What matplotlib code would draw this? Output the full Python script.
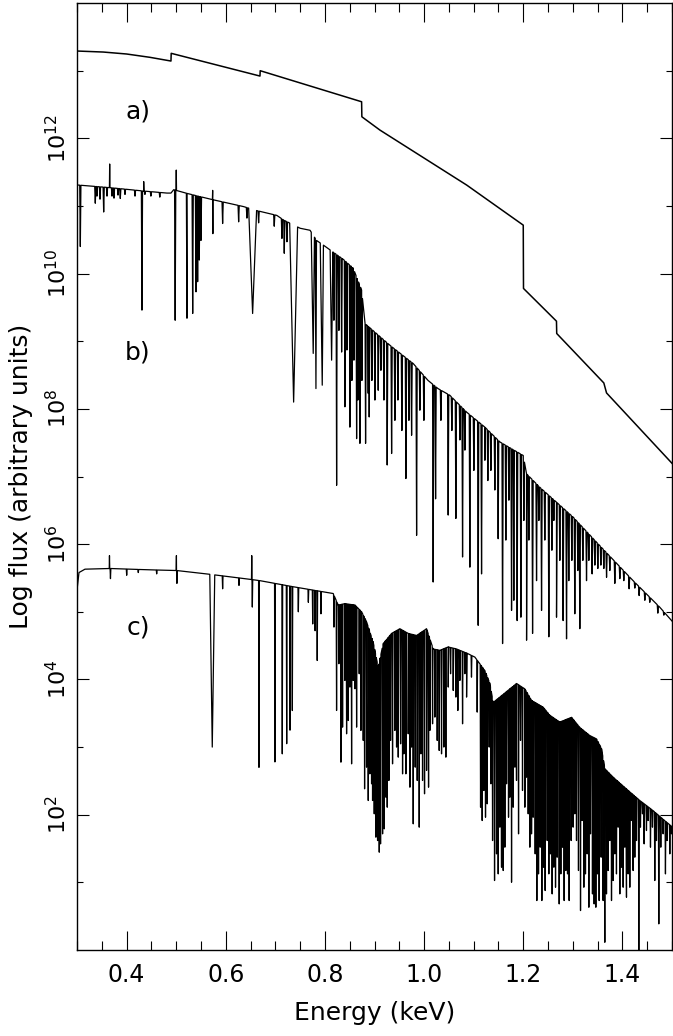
import numpy as np
import matplotlib
matplotlib.use("Agg")
import matplotlib.pyplot as plt
from matplotlib.ticker import FixedLocator, FuncFormatter, MultipleLocator, NullFormatter

plt.rcParams.update(
    {
        "font.family": "DejaVu Sans",
        "font.size": 18,
        "mathtext.fontset": "dejavusans",
        "axes.linewidth": 1.0,
    }
)

# %% data (energy in keV, log10 of flux in arbitrary units)

# a) pure continuum with photo-ionisation edges
a_energy = [0.300, 0.353, 0.400, 0.447, 0.4895, 0.4900, 0.669, 0.6695, 0.874, 0.8745,
            0.911, 1.086, 1.200, 1.2005, 1.267, 1.2675, 1.3625, 1.368, 1.500]
a_logflux = [13.29, 13.275, 13.246, 13.197, 13.142, 13.256, 12.920, 12.999, 12.540, 12.318,
             12.121, 11.308, 10.716, 9.780, 9.296, 9.114, 8.383, 8.235, 7.195]

# b) continuum (upper envelope)
b_cont_energy = [0.300, 0.367, 0.4345, 0.4815, 0.4895, 0.495, 0.522, 0.569, 0.636, 0.663,
                 0.703, 0.717, 0.750, 0.770, 0.783, 0.797, 0.816, 0.837, 0.857, 0.874,
                 0.881, 0.931, 0.978, 1.008, 1.028, 1.052, 1.086, 1.1225, 1.153, 1.200,
                 1.2066, 1.2334, 1.267, 1.3005, 1.354, 1.4215, 1.475, 1.5016]
b_cont_logflux = [11.31, 11.27, 11.22, 11.19, 11.19, 11.24, 11.185, 11.10, 10.99, 10.93,
                  10.86, 10.79, 10.67, 10.64, 10.49, 10.42, 10.32, 10.21, 10.08, 9.755,
                  9.26, 8.94, 8.67, 8.42, 8.30, 8.20, 7.95, 7.73, 7.51, 7.31,
                  7.04, 6.84, 6.62, 6.40, 5.98, 5.46, 5.07, 4.85]

# b) narrow absorption lines: centre and line-bottom
b_line_energy = [0.3067, 0.3369, 0.3403, 0.3464, 0.3538, 0.3605, 0.3706, 0.3746, 0.3827, 0.3873,
                 0.3968, 0.417, 0.431, 0.437, 0.449, 0.467, 0.498, 0.5218, 0.5333, 0.540,
                 0.5433, 0.5466, 0.550, 0.574, 0.5937, 0.626, 0.6427, 0.6663, 0.6978, 0.7133,
                 0.718, 0.7234,
                 0.8181, 0.8236, 0.8282, 0.8337, 0.8403, 0.8444, 0.8504, 0.8544, 0.8585, 0.8639,
                 0.8665, 0.8706, 0.8746, 0.882, 0.8873, 0.8893, 0.8947, 0.9008, 0.9075, 0.9129,
                 0.919, 0.9256, 0.9345, 0.9411, 0.9472, 0.9552, 0.9633, 0.9694, 0.9748, 0.9849,
                 0.9915, 0.9996, 1.0183, 1.0232, 1.0339, 1.0486, 1.056, 1.0641, 1.0722, 1.0776,
                 1.0823, 1.0923, 1.1004, 1.1091, 1.1159, 1.1226, 1.1286, 1.1347, 1.1427, 1.1494,
                 1.1583, 1.1649, 1.171, 1.1764, 1.181, 1.1877, 1.1952, 1.2012, 1.2067, 1.2113,
                 1.2188, 1.2268, 1.2315, 1.2369, 1.2435, 1.2516, 1.2577, 1.2617, 1.2671, 1.2738,
                 1.2804, 1.2873, 1.2919, 1.298, 1.304, 1.3101, 1.3141, 1.3202, 1.3276, 1.3323,
                 1.3389, 1.3444, 1.3504, 1.3565, 1.3625, 1.368, 1.3746, 1.3847, 1.3948, 1.4028,
                 1.4135, 1.425, 1.4337, 1.4452, 1.4552, 1.4714, 1.4835]
b_line_logflux = [10.40, 11.04, 11.145, 11.10, 10.91, 11.145, 11.145, 11.115, 11.16, 11.11,
                  11.17, 11.145, 9.46, 11.17, 11.145, 11.13, 9.31, 9.34, 9.41, 9.73,
                  9.88, 10.20, 10.49, 10.59, 10.74, 10.765, 10.82, 10.75, 10.70, 10.52,
                  10.30, 10.47,
                  9.31, 6.87, 9.16, 8.84, 8.03, 8.87, 7.73, 8.42, 8.72, 7.56,
                  8.13, 7.49, 8.42, 7.49, 8.23, 7.88, 8.42, 8.13, 8.275, 8.57,
                  8.13, 7.17, 7.34, 7.83, 8.13, 7.68, 6.97, 7.83, 7.61, 6.13,
                  7.98, 7.83, 5.44, 6.67, 7.83, 6.43, 7.68, 6.38, 7.54, 5.81,
                  7.39, 5.66, 7.09, 4.80, 5.56, 7.24, 6.94, 7.09, 6.80, 6.08,
                  4.53, 6.06, 6.65, 5.02, 5.17, 4.87, 4.92, 6.35, 4.58, 6.06,
                  4.68, 5.46, 6.35, 5.02, 6.06, 4.63, 5.91, 6.35, 4.92, 5.76,
                  4.87, 4.60, 5.46, 5.76, 4.97, 5.61, 4.75, 5.76, 5.46, 5.76,
                  5.56, 5.69, 5.64, 5.69, 5.64, 5.51, 5.61, 5.42, 5.49, 5.46,
                  5.34, 5.35, 5.24, 5.17, 5.14, 4.98, 4.95]

# b) broad absorption troughs
b_broad_energy = [0.6542, 0.7369, 0.7764, 0.7819, 0.7946, 0.8135]
b_broad_logflux = [9.41, 8.10, 8.82, 8.30, 8.35, 8.72]
b_broad_halfwidth = [0.008, 0.008, 0.004, 0.003, 0.004, 0.003]

# b) emission spikes
b_emis_energy = [0.3659, 0.4345, 0.5002, 0.5736]
b_emis_logflux = [11.62, 11.36, 11.53, 11.23]

# c) continuum (upper envelope)
c_cont_energy = [0.300, 0.304, 0.3161, 0.3665, 0.4472, 0.501, 0.5615, 0.6488, 0.669, 0.7361,
                 0.8167, 0.8268, 0.8403, 0.8605, 0.874, 0.8841, 0.8974, 0.9075, 0.9175, 0.9345,
                 0.9512, 0.968, 0.9849, 1.005, 1.0184, 1.0319, 1.0486, 1.0655, 1.0857, 1.1024,
                 1.1125, 1.1226, 1.1327, 1.1394, 1.1563, 1.173, 1.1865, 1.2032, 1.2167, 1.2401,
                 1.2536, 1.2738, 1.2974, 1.3141, 1.3343, 1.3478, 1.3579, 1.3646, 1.3813, 1.4083,
                 1.4351, 1.4619, 1.4889, 1.5016]
c_cont_logflux = [5.32, 5.58, 5.63, 5.64, 5.62, 5.61, 5.56, 5.48, 5.46, 5.37,
                  5.27, 5.10, 5.12, 5.10, 5.00, 4.85, 4.55, 4.18, 4.53, 4.68,
                  4.75, 4.68, 4.65, 4.75, 4.45, 4.43, 4.48, 4.45, 4.39, 4.33,
                  4.23, 4.13, 3.94, 3.66, 3.76, 3.86, 3.94, 3.86, 3.69, 3.59,
                  3.47, 3.37, 3.44, 3.29, 3.17, 3.12, 2.975, 2.68, 2.555, 2.38,
                  2.21, 2.06, 1.89, 1.815]

# c) narrow absorption lines
c_line_energy = [0.3675, 0.4002, 0.4236, 0.4607, 0.5015, 0.5937, 0.6267, 0.6536, 0.667, 0.6992,
                 0.714, 0.7229, 0.7296, 0.7343, 0.7464, 0.7666, 0.7754, 0.7802, 0.7845, 0.792,
                 0.8182, 0.8235, 0.8282, 0.8323, 0.8356, 0.8403, 0.8437, 0.8471, 0.8504, 0.8538,
                 0.8571, 0.8605, 0.8639, 0.8692, 0.8726, 0.8773, 0.8800, 0.8840, 0.8874, 0.8907,
                 0.8941, 0.8961, 0.8995, 0.9028, 0.9062, 0.9096, 0.9122, 0.9163, 0.9196, 0.9230,
                 0.9257, 0.9290, 0.9324, 0.9364, 0.9411, 0.9445, 0.9479, 0.9526, 0.9566, 0.9593,
                 0.9633, 0.9680, 0.9714, 0.9748, 0.9781, 0.9821, 0.9862, 0.9902, 0.9936, 0.9969,
                 1.0009, 1.0050, 1.0090, 1.0117, 1.0171, 1.0218, 1.0265, 1.0305, 1.0352, 1.0399,
                 1.0439, 1.0487, 1.0534, 1.0588, 1.0641, 1.0681, 1.0722, 1.0776, 1.0823, 1.0857,
                 1.0956, 1.1071, 1.1139, 1.1172, 1.1206, 1.1239, 1.1273, 1.1313, 1.1347, 1.1381,
                 1.1421, 1.1461, 1.1495, 1.1528, 1.1562, 1.1596, 1.1629, 1.1663, 1.1703, 1.1730,
                 1.1764, 1.1797, 1.1831, 1.1864, 1.1905, 1.1945, 1.1985, 1.2032, 1.2066, 1.2100,
                 1.2133, 1.2167, 1.2200, 1.2241, 1.2274, 1.2308, 1.2342, 1.2375, 1.2409, 1.2442,
                 1.2483, 1.2516, 1.2550, 1.2583, 1.2617, 1.2651, 1.2684, 1.2725, 1.2758, 1.2792,
                 1.2825, 1.2859, 1.2893, 1.2926, 1.2966, 1.3006, 1.3040, 1.3074, 1.3114, 1.3155,
                 1.3188, 1.3222, 1.3255, 1.3289, 1.3323, 1.3356, 1.3396, 1.3430, 1.3464, 1.3497,
                 1.3531, 1.3571, 1.3611, 1.3645, 1.3679, 1.3712, 1.3746, 1.3780, 1.3813, 1.3847,
                 1.3880, 1.3914, 1.3948, 1.3981, 1.4015, 1.4048, 1.4082, 1.4115, 1.4149, 1.4183,
                 1.4216, 1.4250, 1.4284, 1.4331, 1.4364, 1.4405, 1.4438, 1.4485, 1.4519, 1.4566,
                 1.4606, 1.4653, 1.4687, 1.4734, 1.4774, 1.4821, 1.4868, 1.4902, 1.4956, 1.4990]
c_line_logflux = [5.49, 5.54, 5.58, 5.56, 5.42, 5.34, 5.39, 5.07, 2.70, 2.78,
                  2.90, 3.05, 3.25, 3.54, 5.00, 5.14, 4.82, 4.72, 4.28, 4.97,
                  4.774, 3.541, 4.232, 2.777, 3.295, 3.985, 3.196, 3.393, 3.887, 2.752,
                  3.985, 3.862, 3.295, 4.084, 3.246, 3.098, 2.383, 2.703, 2.210, 2.604,
                  2.457, 2.210, 2.013, 1.668, 1.618, 1.446, 1.569, 1.717, 1.791, 2.259,
                  2.111, 2.506, 3.098, 2.752, 3.246, 3.000, 2.851, 3.048, 2.604, 2.900,
                  2.604, 3.196, 2.407, 3.000, 1.865, 2.703, 2.506, 1.816, 2.900, 2.506,
                  2.309, 2.654, 2.407, 3.246, 3.344, 3.443, 3.098, 2.950, 2.900, 3.000,
                  2.851, 3.887, 4.084, 3.837, 3.739, 3.541, 3.985, 3.344, 4.084, 3.739,
                  4.034, 3.517, 2.111, 1.914, 2.358, 1.963, 2.161, 3.000, 2.457, 1.618,
                  1.027, 1.421, 1.125, 1.816, 1.224, 1.175, 1.520, 2.457, 1.963, 2.259,
                  1.002, 2.111, 2.703, 2.506, 1.717, 3.098, 2.358, 2.111, 2.555, 2.013,
                  1.520, 1.717, 1.963, 1.421, 0.731, 1.125, 1.520, 0.731, 1.224, 0.879,
                  1.618, 1.125, 1.421, 0.829, 1.224, 0.928, 1.372, 0.681, 1.125, 1.520,
                  0.731, 1.175, 1.125, 0.731, 1.618, 1.816, 2.013, 1.618, 1.175, 0.583,
                  1.914, 0.928, 1.125, 1.421, 0.632, 1.717, 0.829, 0.681, 0.632, 1.125,
                  0.731, 1.372, 0.731, 0.114, 0.829, 1.175, 1.618, 0.731, 1.027, 1.421,
                  1.125, 1.816, 0.829, 1.224, 0.928, 1.520, 0.780, 1.125, 0.928, 1.914,
                  1.175, 1.372, 1.618, -0.05, 1.816, 2.013, 1.569, 1.766, 1.914, 1.520,
                  1.816, 1.027, 1.618, 0.386, 1.520, 1.717, 1.125, 1.618, 1.421, 1.717]

# c) broad absorption trough
c_broad_energy = [0.5728]
c_broad_logflux = [3.00]
c_broad_halfwidth = [0.005]

# c) emission spikes
c_emis_energy = [0.3655, 0.5005, 0.6524]
c_emis_logflux = [5.83, 5.83, 5.83]

b_hw = 0.0012
c_hw = 0.0008
emis_hw = 0.0005


def build_spectrum(cont_e, cont_f, feats):
    """merge continuum knots with line features (centre, log flux, half width)"""
    ce = np.asarray(cont_e, dtype=float)
    cf = np.asarray(cont_f, dtype=float)
    e_all = [ce]
    f_all = [cf]
    for energies, fluxes, hws in feats:
        for e0, f0, w in zip(energies, fluxes, hws):
            e_all.append(np.array([e0 - w, e0, e0 + w]))
            f_all.append(np.array([np.interp(e0 - w, ce, cf), f0, np.interp(e0 + w, ce, cf)]))
    e_all = np.concatenate(e_all)
    f_all = np.concatenate(f_all)
    order = np.argsort(e_all, kind="stable")
    return e_all[order], 10.0 ** f_all[order]


b_e, b_f = build_spectrum(
    b_cont_energy,
    b_cont_logflux,
    [
        (b_line_energy, b_line_logflux, [b_hw] * len(b_line_energy)),
        (b_broad_energy, b_broad_logflux, b_broad_halfwidth),
        (b_emis_energy, b_emis_logflux, [emis_hw] * len(b_emis_energy)),
    ],
)
c_e, c_f = build_spectrum(
    c_cont_energy,
    c_cont_logflux,
    [
        (c_line_energy, c_line_logflux, [c_hw] * len(c_line_energy)),
        (c_broad_energy, c_broad_logflux, c_broad_halfwidth),
        (c_emis_energy, c_emis_logflux, [emis_hw] * len(c_emis_energy)),
    ],
)

# %% figure
fig = plt.figure(figsize=(6.73, 10.36), dpi=100)
ax = fig.add_axes([77 / 673, 86 / 1036, 595 / 673, 947 / 1036])

ax.plot(a_energy, 10.0 ** np.asarray(a_logflux), color="black", lw=1.1)
ax.plot(b_e, b_f, color="black", lw=0.9)
ax.plot(c_e, c_f, color="black", lw=0.9)

ax.set_yscale("log")
ax.set_xlim(0.3, 1.5)
ax.set_ylim(1, 1e14)

ax.xaxis.set_major_locator(MultipleLocator(0.2))
ax.xaxis.set_minor_locator(MultipleLocator(0.05))
ax.xaxis.set_major_formatter(FuncFormatter(lambda v, p: f"{v:.1f}"))
ax.yaxis.set_major_locator(FixedLocator([10.0 ** k for k in range(2, 13, 2)]))
ax.yaxis.set_minor_locator(FixedLocator([10.0 ** k for k in range(1, 14, 2)]))
ax.yaxis.set_major_formatter(FuncFormatter(lambda v, p: r"$10^{%d}$" % round(np.log10(v))))
ax.yaxis.set_minor_formatter(NullFormatter())

ax.tick_params(axis="both", which="both", direction="in", top=True, right=True, width=0.8)
ax.tick_params(axis="x", which="major", length=13.7, pad=9, labelsize=17)
ax.tick_params(axis="x", which="minor", length=6.8)
ax.tick_params(axis="y", which="major", length=8.6, pad=5, labelsize=16)
ax.tick_params(axis="y", which="minor", length=4.3)
ax.tick_params(axis="y", labelrotation=90)
for lab in ax.get_yticklabels():
    lab.set_va("center")

ax.set_xlabel("Energy (keV)", fontsize=18)
ax.xaxis.set_label_coords(0.5, -0.067)
ax.xaxis.label.set_va("center")
ax.set_ylabel("Log flux (arbitrary units)", fontsize=18)
ax.yaxis.set_label_coords(-0.094, 0.5)
ax.yaxis.label.set_va("center")

for txt, ypos in zip(["a)", "b)", "c)"], [10 ** 12.39, 10 ** 8.84, 10 ** 4.77]):
    ax.text(0.423, ypos, txt, ha="center", va="center", fontsize=18)

fig.savefig("out.png", dpi=100)
